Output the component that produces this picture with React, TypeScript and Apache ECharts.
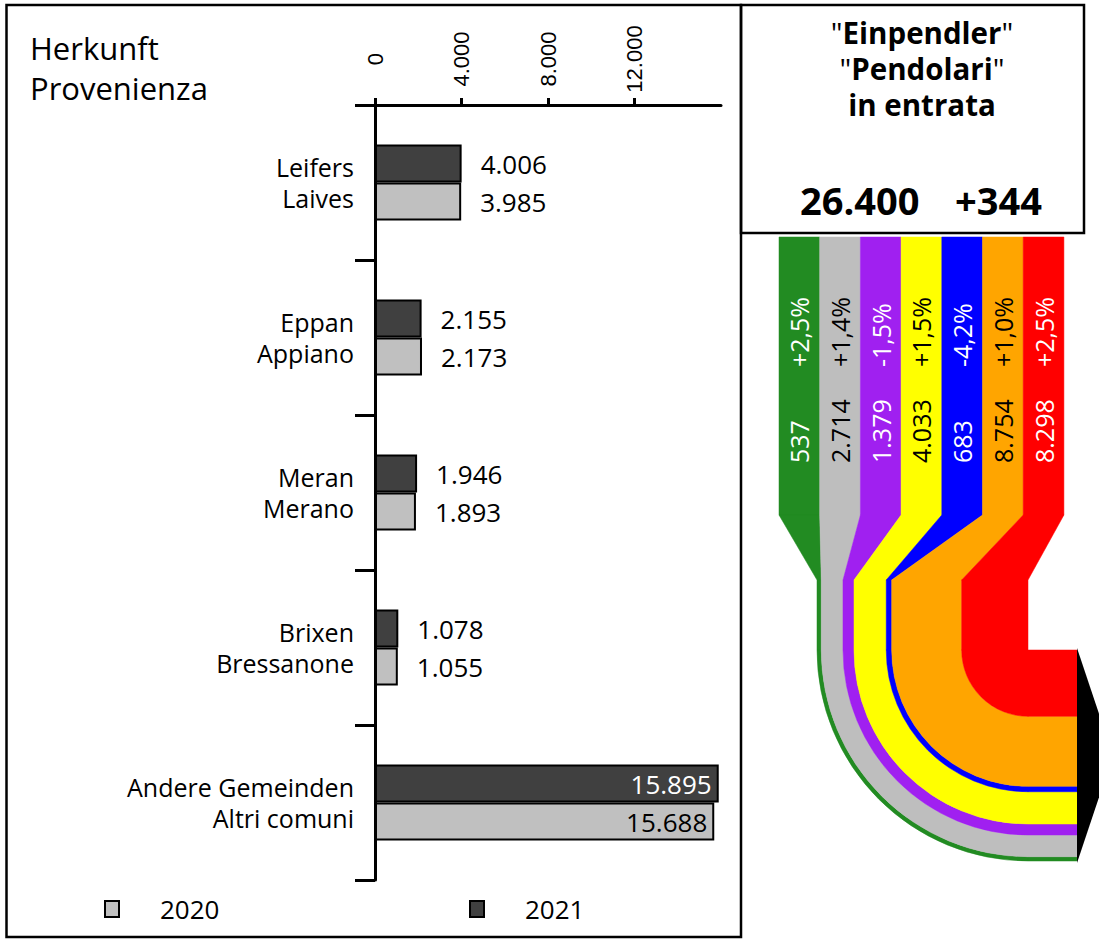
import React, { useEffect, useRef } from "react";
import * as echarts from "echarts";

// ---- data ----
const categoriesDe = ["Leifers", "Eppan", "Meran", "Brixen", "Andere Gemeinden"];
const categoriesIt = ["Laives", "Appiano", "Merano", "Bressanone", "Altri comuni"];
const values2021 = [4006, 2155, 1946, 1078, 15895];
const values2020 = [3985, 2173, 1893, 1055, 15688];
const xTicks = [0, 4000, 8000, 12000];

const flowValues = [537, 2714, 1379, 4033, 683, 8754, 8298];
const flowChanges = ["+2,5%", "+1,4%", "-1,5%", "+1,5%", "-4,2%", "+1,0%", "+2,5%"];
const flowColors = ["#228b22", "#bebebe", "#a020f0", "#ffff00", "#0000ff", "#ffa500", "#ff0000"];
const flowTextColors = ["#ffffff", "#000000", "#ffffff", "#000000", "#ffffff", "#000000", "#ffffff"];
const totalCommuters = 26400;
const totalChange = 344;

const FONT = '"Open Sans", "Noto Sans", sans-serif';
const AXFONT = '"Liberation Sans", Arial, sans-serif';

const fmt = (v: number) => String(Math.round(v)).replace(/\B(?=(\d{3})+(?!\d))/g, ".");

const flowSum = flowValues.reduce((a, b) => a + b, 0);

function renderFlow(params: any, api: any) {
  const cs = params.coordSys;
  const x0 = cs.x;
  const y0 = cs.y;
  const colW = 40.7;
  const colLeft = x0 - 38;
  const yTaper = y0 + 278;
  const yNarrow = y0 + 343;
  const yBend = y0 + 413;
  const cx = api.coord([flowSum, 0])[0];
  const xEnd = cx + 49;
  const children: any[] = [];
  let cum = 0;
  flowValues.forEach((v, i) => {
    const xl = api.coord([cum, 0])[0];
    cum += v;
    const xr = api.coord([cum, 0])[0];
    const cl = colLeft + i * colW;
    const cr = cl + colW;
    const st = { fill: flowColors[i], stroke: flowColors[i], lineWidth: 0.5 };
    children.push({ type: "rect", shape: { x: cl, y: y0, width: colW, height: yTaper - y0 }, style: st });
    children.push({
      type: "polygon",
      shape: { points: [[cl, yTaper], [cr, yTaper], [xr, yNarrow], [xl, yNarrow]] },
      style: st,
    });
    children.push({ type: "rect", shape: { x: xl, y: yNarrow, width: xr - xl, height: yBend - yNarrow }, style: st });
    children.push({
      type: "sector",
      shape: { cx, cy: yBend, r: cx - xl, r0: cx - xr, startAngle: Math.PI / 2, endAngle: Math.PI, clockwise: true },
      style: st,
    });
    children.push({
      type: "rect",
      shape: { x: cx, y: yBend + (cx - xr), width: xEnd - cx, height: xr - xl },
      style: st,
    });
    const tx = cl + colW / 2;
    children.push({
      type: "text",
      x: tx,
      y: y0 + 226,
      rotation: Math.PI / 2,
      style: {
        text: fmt(v),
        fill: flowTextColors[i],
        fontSize: 25,
        fontFamily: FONT,
        align: "left",
        verticalAlign: "middle",
      },
    });
    children.push({
      type: "text",
      x: tx,
      y: y0 + 130,
      rotation: Math.PI / 2,
      style: {
        text: flowChanges[i],
        fill: flowTextColors[i],
        fontSize: 25,
        fontFamily: FONT,
        align: "left",
        verticalAlign: "middle",
      },
    });
  });
  const R = cx - api.coord([0, 0])[0];
  children.push({
    type: "polygon",
    shape: { points: [[xEnd, yBend - 2], [xEnd + 36, yBend + R / 2], [xEnd, yBend + R + 2]] },
    style: { fill: "#000" },
  });
  return { type: "group", children };
}

export default function App() {
  const ref = useRef<HTMLDivElement>(null);
  useEffect(() => {
    document.body.style.margin = "0";
    if (!ref.current) return;
    const chart = echarts.init(ref.current, null, { renderer: "svg" });
    const categories = categoriesDe.map((d, i) => d + "\n" + categoriesIt[i]);
    const labelBase = {
      show: true,
      position: "right",
      distance: 19,
      fontFamily: FONT,
      fontSize: 26,
      color: "#000",
      formatter: (p: any) => fmt(p.value),
    };
    const titleRich = {
      q: { fontFamily: FONT, fontSize: 29.5, lineHeight: 36, fontWeight: "normal", fill: "#000" },
      b: { fontFamily: FONT, fontSize: 29.5, lineHeight: 36, fontWeight: "bold", fill: "#000" },
    };
    const option: any = {
      animation: false,
      backgroundColor: "#ffffff",
      grid: [
        { left: 357.7, right: 378, top: 105, bottom: 62 },
        { left: 817, top: 237, width: 211, height: 700 },
      ],
      xAxis: [
        {
          type: "value",
          gridIndex: 0,
          position: "top",
          min: -800,
          max: 16000,
          axisLine: { show: true, onZero: false, lineStyle: { color: "#000", width: 3 } },
          axisTick: { show: true, customValues: xTicks, length: 7, lineStyle: { color: "#000", width: 3 } },
          axisLabel: {
            customValues: xTicks,
            rotate: -90,
            align: "center",
            verticalAlign: "middle",
            margin: 46,
            formatter: (v: number) => fmt(v),
            fontFamily: AXFONT,
            fontSize: 22,
            color: "#000",
          },
          splitLine: { show: false },
        },
        { type: "value", gridIndex: 1, min: 0, max: flowSum, show: false },
      ],
      yAxis: [
        {
          type: "category",
          gridIndex: 0,
          inverse: true,
          data: categories,
          axisLine: { show: true, onZero: true, lineStyle: { color: "#000", width: 3 } },
          axisTick: { show: true, length: 20, lineStyle: { color: "#000", width: 3 } },
          axisLabel: {
            fontFamily: FONT,
            fontSize: 25,
            lineHeight: 31,
            color: "#000",
            margin: 3.7,
            align: "right",
          },
          splitLine: { show: false },
        },
        { type: "value", gridIndex: 1, min: 0, max: 1, show: false },
      ],
      legend: [
        {
          data: ["2020"],
          left: 104,
          top: 896,
          padding: 0,
          icon: "rect",
          itemWidth: 14,
          itemHeight: 16,
          textStyle: { fontFamily: FONT, fontSize: 26, lineHeight: 26, color: "#000", padding: [0, 0, 0, 36] },
        },
        {
          data: ["2021"],
          left: 469,
          top: 896,
          padding: 0,
          icon: "rect",
          itemWidth: 14,
          itemHeight: 16,
          textStyle: { fontFamily: FONT, fontSize: 26, lineHeight: 26, color: "#000", padding: [0, 0, 0, 36] },
        },
      ],
      series: [
        {
          name: "2021",
          type: "bar",
          xAxisIndex: 0,
          yAxisIndex: 0,
          barWidth: 38,
          barGap: "0%",
          itemStyle: { color: "#404040", borderColor: "#000", borderWidth: 2 },
          label: labelBase,
          data: values2021.map((v) =>
            v > 10000 ? { value: v, label: { position: "insideRight", distance: 7, color: "#fff" } } : v
          ),
        },
        {
          name: "2020",
          type: "bar",
          xAxisIndex: 0,
          yAxisIndex: 0,
          barWidth: 38,
          barGap: "0%",
          itemStyle: { color: "#c0c0c0", borderColor: "#000", borderWidth: 2 },
          label: labelBase,
          data: values2020.map((v) =>
            v > 10000 ? { value: v, label: { position: "insideRight", distance: 7, color: "#000" } } : v
          ),
        },
        {
          type: "custom",
          xAxisIndex: 1,
          yAxisIndex: 1,
          silent: true,
          data: [[0, 0]],
          renderItem: renderFlow,
        },
      ],
      graphic: [
        {
          type: "rect",
          shape: { x: 6.5, y: 5, width: 734.5, height: 932 },
          style: { fill: "none", stroke: "#000", lineWidth: 2.5 },
          z: 100,
        },
        {
          type: "rect",
          shape: { x: 741, y: 5, width: 343, height: 228 },
          style: { fill: "none", stroke: "#000", lineWidth: 2.5 },
          z: 100,
        },
        {
          type: "text",
          x: 30,
          y: 48,
          style: { text: "Herkunft", fontFamily: FONT, fontSize: 31, fill: "#000", align: "left", verticalAlign: "middle" },
        },
        {
          type: "text",
          x: 30,
          y: 88,
          style: { text: "Provenienza", fontFamily: FONT, fontSize: 31, fill: "#000", align: "left", verticalAlign: "middle" },
        },
        {
          type: "text",
          x: 922,
          y: 68,
          style: {
            text: '{q|"}{b|Einpendler}{q|"}\n{q|"}{b|Pendolari}{q|"}\n{b|in entrata}',
            align: "center",
            verticalAlign: "middle",
            rich: titleRich,
          },
        },
        {
          type: "text",
          x: 800,
          y: 200,
          style: {
            text: fmt(totalCommuters),
            fontFamily: FONT,
            fontSize: 38,
            fontWeight: "bold",
            fill: "#000",
            align: "left",
            verticalAlign: "middle",
          },
        },
        {
          type: "text",
          x: 955,
          y: 200,
          style: {
            text: "+" + fmt(totalChange),
            fontFamily: FONT,
            fontSize: 38,
            fontWeight: "bold",
            fill: "#000",
            align: "left",
            verticalAlign: "middle",
          },
        },
      ],
    };
    chart.setOption(option);
    return () => chart.dispose();
  }, []);
  return <div ref={ref} style={{ width: 1099, height: 942 }} />;
}
